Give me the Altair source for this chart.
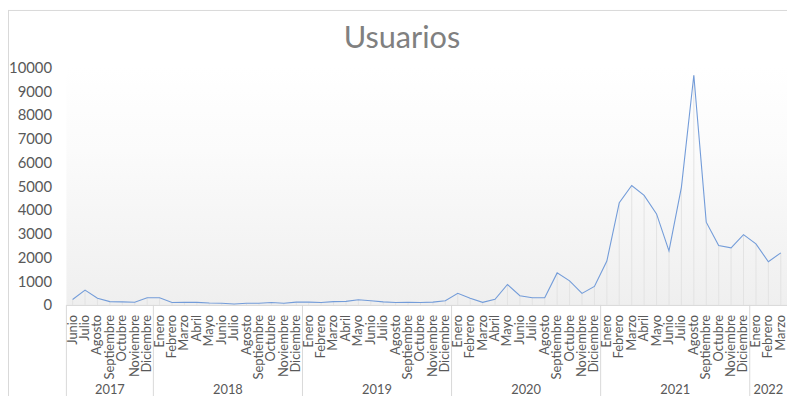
import altair as alt
import pandas as pd

titulo = "Usuarios"
years = ["2017", "2018", "2019", "2020", "2021", "2022"]
year_counts = [7, 12, 12, 12, 12, 3]

all_months = ["Enero", "Febrero", "Marzo", "Abril", "Mayo", "Junio", "Julio",
              "Agosto", "Septiembre", "Octubre", "Noviembre", "Diciembre"]
months = all_months[5:] + all_months * 4 + all_months[:3]

usuarios = [230, 625, 280, 140, 130, 115, 300,
            300, 100, 110, 110, 80, 70, 40, 70, 70, 100, 70, 120,
            120, 100, 140, 150, 220, 180, 130, 100, 110, 100, 120, 180,
            490, 280, 110, 235, 860, 390, 305, 305, 1350, 1015, 487, 778,
            1847, 4305, 5028, 4611, 3833, 2278, 4950, 9667, 3486, 2500, 2403, 2958,
            2569, 1819, 2194]

n = len(months)
df = pd.DataFrame({"idx": list(range(n)), "mes": months, "usuarios": usuarios})

starts = []
s = 0
for c in year_counts:
    starts.append(s)
    s += c
ydf = pd.DataFrame({
    "year": years,
    "center": [st + (c - 1) / 2 for st, c in zip(starts, year_counts)],
    "bound": [st - 0.5 for st in starts],
})

W, H = 728, 240
FONT = "Lato"
GREY = "#595959"

xs = alt.Scale(domain=[-0.5, n - 0.5], nice=False, zero=False)
ys = alt.Scale(domain=[0, 10000], nice=False)

yenc = alt.Y("usuarios:Q", scale=ys, title=None,
             axis=alt.Axis(values=list(range(0, 10001, 1000)), format="d", domain=False,
                           ticks=False, grid=False, labelFontSize=15, labelFont=FONT,
                           labelColor=GREY, labelPadding=15))

grad = alt.Gradient(
    gradient="linear",
    stops=[alt.GradientStop(offset=0, color="#ffffff"),
           alt.GradientStop(offset=0.35, color="#fbfbfb"),
           alt.GradientStop(offset=1, color="#efefef")],
    x1=0, x2=0, y1=0, y2=1,
)

base = alt.Chart(df)
one = pd.DataFrame({"t": [titulo]})

bg = alt.Chart(one).mark_rect(fill=grad).encode(
    x=alt.value(0), x2=alt.value(W), y=alt.value(0), y2=alt.value(H)
)

drops = base.mark_rule(color="#e3e3e3", strokeWidth=1).encode(
    x=alt.X("idx:Q", scale=xs, axis=None),
    y=yenc,
    y2=alt.datum(0),
)

line = base.mark_line(color="#739cd9", strokeWidth=1.1).encode(
    x=alt.X("idx:Q", scale=xs, axis=None),
    y=yenc,
)

xaxis_line = alt.Chart(one).mark_rule(color="#d9d9d9").encode(
    x=alt.value(0), x2=alt.value(W + 20), y=alt.value(H + 0.5)
)

month_text = base.mark_text(angle=270, align="right", baseline="middle", fontSize=13,
                            font=FONT, color=GREY).encode(
    x=alt.X("idx:Q", scale=xs, axis=None),
    y=alt.value(H + 10),
    text="mes:N",
)

year_text = alt.Chart(ydf).mark_text(baseline="middle", fontSize=13, font=FONT,
                                     color=GREY).encode(
    x=alt.X("center:Q", scale=xs, axis=None),
    y=alt.value(H + 86),
    text="year:N",
)

seps = alt.Chart(ydf).mark_rule(color="#d9d9d9").encode(
    x=alt.X("bound:Q", scale=xs, axis=None),
    y=alt.value(H),
    y2=alt.value(H + 92),
)

title_text = alt.Chart(one).mark_text(fontSize=31, font=FONT, fontWeight="normal",
                                      color="#808080", baseline="alphabetic",
                                      align="center").encode(
    x=alt.value(339), y=alt.value(-19.5), text="t:N"
)

border_top = alt.Chart(one).mark_rule(color="#d9d9d9").encode(
    x=alt.value(-59), x2=alt.value(W + 10), y=alt.value(-57.5)
)
border_left = alt.Chart(one).mark_rule(color="#d9d9d9").encode(
    x=alt.value(-58.5), y=alt.value(-58), y2=alt.value(H + 92)
)

chart = alt.layer(
    bg, drops, xaxis_line, seps, line, month_text, year_text, title_text,
    border_top, border_left
).properties(
    width=W, height=H,
    autosize=alt.AutoSizeParams(type="none"),
    padding={"left": 59, "top": 58, "right": 0, "bottom": 92},
).configure_view(stroke=None)

chart.save("out.html", embed_options={"renderer": "svg", "actions": False})
